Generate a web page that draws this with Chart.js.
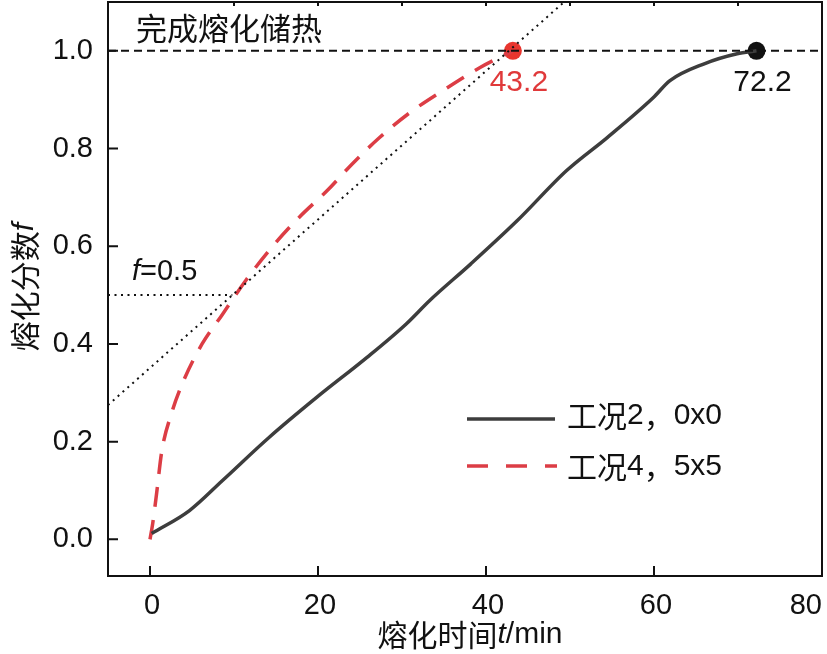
<!DOCTYPE html>
<html>
<head>
<meta charset="utf-8">
<script src="https://cdn.jsdelivr.net/npm/chart.js@4/dist/chart.umd.min.js"></script>
<style>
  html, body { margin: 0; padding: 0; background: #fff; }
  #wrap { width: 827px; height: 654px; }
</style>
</head>
<body>
<div id="wrap"><canvas id="grafico"></canvas></div>
<script>
// 工况2, 0x0
const tempo2 = [0.2, 4.7, 8.6, 14.2, 19.8, 25.8, 30.5, 33.3, 38.2, 43.7, 49.6, 54.4, 59.9, 61.9, 65.9, 69.9, 72.2];
const fracao2 = [0.012, 0.059, 0.12, 0.209, 0.29, 0.372, 0.441, 0.489, 0.564, 0.652, 0.755, 0.822, 0.904, 0.939, 0.973, 0.994, 1.0];
// 工况4, 5x5
const tempo4 = [0, 0.3, 0.8, 1.4, 2.6, 4.0, 6.2, 8.6, 11.4, 14.6, 17.8, 21.1, 24.1, 27.3, 30.9, 34.8, 39.3, 43.2];
const fracao4 = [0, 0.03, 0.096, 0.18, 0.26, 0.325, 0.40, 0.46, 0.53, 0.60, 0.66, 0.714, 0.769, 0.822, 0.873, 0.918, 0.966, 1.0];
// linhas de referência
const tangenteT = [-5, 49.3];
const tangenteF = [0.275, 1.1];
const metadeT = [-5, 9.8];
const metadeF = [0.5, 0.5];
const completoT = [-5, 80];
const completoF = [1, 1];
const fimT = [43.2, 72.2];
const fimF = [1, 1];
const fimLabels = ["43.2", "72.2"];
const xTicks = [0, 20, 40, 60, 80];
const yTicks = [0, 0.2, 0.4, 0.6, 0.8, 1.0];

const pares = (xs, ys) => xs.map((x, i) => ({ x: x, y: ys[i] }));
const LAT = '"Liberation Sans", Arial, sans-serif';
const CJK = '"Noto Sans CJK SC", sans-serif';
const VERMELHO = '#dc3d45';
const CINZA = '#3d3d3d';

function textoMisto(ctx, partes, x, y, align) {
  let total = 0;
  partes.forEach(p => { ctx.font = p.font; p.w = ctx.measureText(p.text).width; total += p.w; });
  let cx = align === 'center' ? x - total / 2 : (align === 'right' ? x - total : x);
  ctx.textBaseline = 'middle';
  ctx.textAlign = 'left';
  partes.forEach(p => { ctx.font = p.font; ctx.fillStyle = p.color || '#111'; ctx.fillText(p.text, cx, y); cx += p.w; });
}

const moldura = {
  id: 'moldura',
  afterDraw(chart) {
    const ctx = chart.ctx;
    const a = chart.chartArea;
    const sx = chart.scales.x, sy = chart.scales.y;
    ctx.save();
    ctx.strokeStyle = '#111';
    ctx.lineWidth = 2;
    ctx.strokeRect(a.left, a.top, a.right - a.left, a.bottom - a.top);
    ctx.beginPath();
    xTicks.slice(0, 4).forEach(v => {
      const px = sx.getPixelForValue(v);
      ctx.moveTo(px, a.bottom); ctx.lineTo(px, a.bottom - 10);
    });
    for (let v = 10; v <= 70; v += 10) {
      const px = sx.getPixelForValue(v);
      ctx.moveTo(px, a.top); ctx.lineTo(px, a.top + 4);
    }
    yTicks.forEach(v => {
      const py = sy.getPixelForValue(v);
      ctx.moveTo(a.left, py); ctx.lineTo(a.left + 10, py);
    });
    ctx.stroke();

    // rótulos do eixo x (o último fica alinhado à borda)
    xTicks.forEach((v, i) => {
      const px = sx.getPixelForValue(v);
      const ultimo = i === xTicks.length - 1;
      textoMisto(ctx, [{ text: String(v), font: '29px ' + LAT }], ultimo ? px : px + 2, 606, ultimo ? 'right' : 'center');
    });

    // textos
    textoMisto(ctx, [{ text: '完成熔化储热', font: '31px ' + CJK }], 136, 28, 'left');
    textoMisto(ctx, [{ text: 'f', font: 'italic 29px ' + LAT }, { text: '=0.5', font: '29px ' + LAT }], 132, 272, 'left');
    fimLabels.forEach((t, i) => {
      textoMisto(ctx, [{ text: t, font: '30px ' + LAT, color: i === 0 ? '#e0393a' : '#111' }],
        sx.getPixelForValue(fimT[i]) + 6, 83, 'center');
    });

    // legenda
    ctx.lineWidth = 3.5;
    ctx.strokeStyle = CINZA;
    ctx.setLineDash([]);
    ctx.beginPath(); ctx.moveTo(467, 419); ctx.lineTo(555, 419); ctx.stroke();
    ctx.strokeStyle = VERMELHO;
    ctx.setLineDash([21, 18]);
    ctx.beginPath(); ctx.moveTo(467, 466); ctx.lineTo(557, 466); ctx.stroke();
    ctx.setLineDash([]);
    textoMisto(ctx, [{ text: '工况', font: '30px ' + CJK }, { text: '2', font: '30px ' + LAT }, { text: '，', font: '30px ' + CJK }, { text: '0x0', font: '30px ' + LAT }], 567, 416, 'left');
    textoMisto(ctx, [{ text: '工况', font: '30px ' + CJK }, { text: '4', font: '30px ' + LAT }, { text: '，', font: '30px ' + CJK }, { text: '5x5', font: '30px ' + LAT }], 567, 467, 'left');

    // títulos dos eixos
    textoMisto(ctx, [{ text: '熔化时间', font: '30px ' + CJK }, { text: 't', font: 'italic 30px ' + LAT }, { text: '/min', font: '30px ' + LAT }], 470, 635, 'center');
    ctx.save();
    ctx.translate(25, 287);
    ctx.rotate(-Math.PI / 2);
    textoMisto(ctx, [{ text: '熔化分数', font: '30px ' + CJK }, { text: 'f', font: 'italic 30px ' + LAT }], 0, 0, 'center');
    ctx.restore();
    ctx.restore();
  }
};

const ctx = document.getElementById('grafico').getContext('2d');
new Chart(ctx, {
  type: 'scatter',
  data: {
    datasets: [
      { data: pares(completoT, completoF), showLine: true, borderColor: '#111', borderWidth: 2, borderDash: [8, 5], pointRadius: 0 },
      { data: pares(tangenteT, tangenteF), showLine: true, borderColor: '#111', borderWidth: 2, borderDash: [2, 4.5], pointRadius: 0 },
      { data: pares(metadeT, metadeF), showLine: true, borderColor: '#111', borderWidth: 2, borderDash: [2, 4.5], pointRadius: 0 },
      { data: pares(tempo2, fracao2), showLine: true, borderColor: CINZA, borderWidth: 3.5, pointRadius: 0, cubicInterpolationMode: 'monotone' },
      { data: pares(tempo4, fracao4), showLine: true, borderColor: VERMELHO, borderWidth: 3.5, borderDash: [20, 13], pointRadius: 0, cubicInterpolationMode: 'monotone' },
      { data: pares(fimT, fimF), showLine: false, pointRadius: 9, pointBorderWidth: 0,
        pointBackgroundColor: ['#e8352e', '#111'], pointBorderColor: ['#e8352e', '#111'] }
    ]
  },
  options: {
    responsive: true,
    maintainAspectRatio: false,
    animation: false,
    layout: { autoPadding: false, padding: { top: 2, right: 5, left: 0, bottom: 0 } },
    plugins: { legend: { display: false }, tooltip: { enabled: false } },
    scales: {
      x: {
        type: 'linear', min: -5, max: 80,
        afterFit: s => { s.height = 78; s.paddingLeft = 0; s.paddingRight = 0; },
        grid: { display: false, drawTicks: false },
        border: { display: false },
        ticks: { stepSize: 20, includeBounds: false, display: false }
      },
      y: {
        type: 'linear', min: -0.075, max: 1.1,
        afterFit: s => { s.width = 108; s.paddingTop = 0; s.paddingBottom = 0; },
        grid: { display: false, drawTicks: false },
        border: { display: false },
        ticks: { stepSize: 0.2, includeBounds: false, padding: 15, color: '#111', font: { family: LAT, size: 29 },
          callback: v => v.toFixed(1) }
      }
    }
  },
  plugins: [moldura]
});
</script>
</body>
</html>
